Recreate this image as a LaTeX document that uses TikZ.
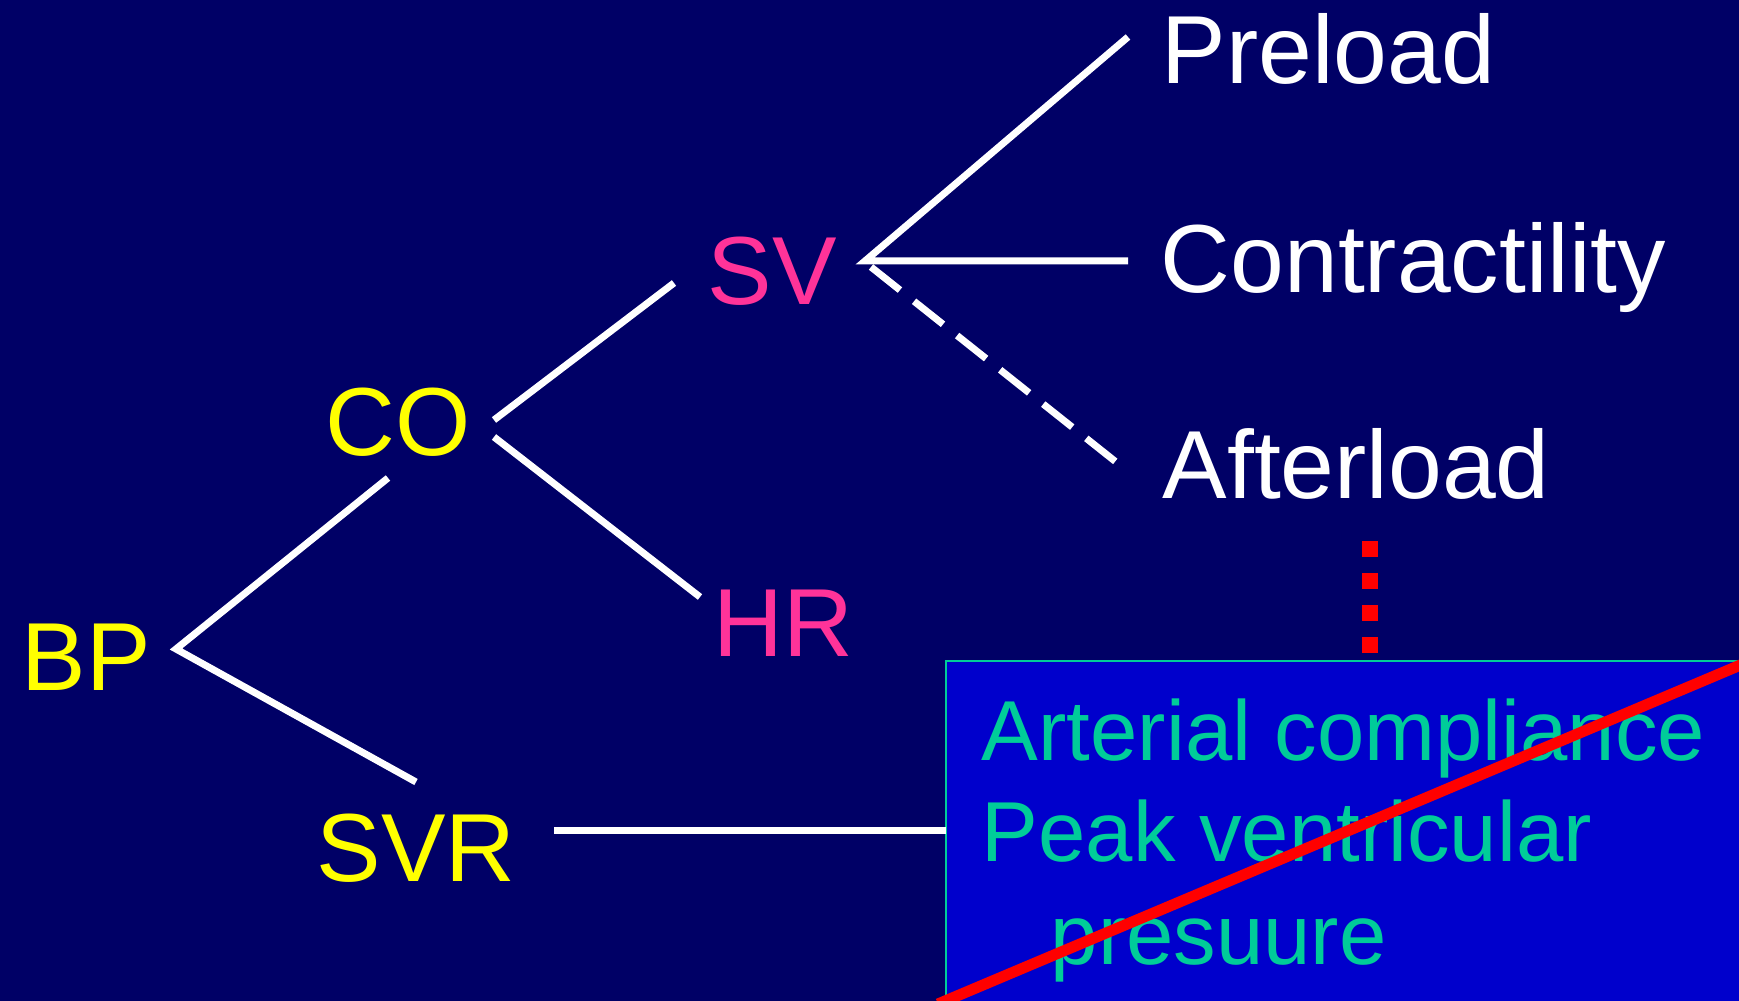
\documentclass[tikz,border=0pt]{standalone}
\usepackage{fontspec}
\setmainfont{Liberation Sans}
\definecolor{bg}{RGB}{0,0,102}
\definecolor{boxfill}{RGB}{0,0,204}
\definecolor{boxtext}{RGB}{0,204,153}
\definecolor{pinkc}{RGB}{255,51,153}
\definecolor{yel}{RGB}{255,255,0}
\begin{document}
\begin{tikzpicture}[x=0.01cm,y=-0.01cm,
  lbl/.style={inner sep=0pt, anchor=base west, font=\fontsize{27.5}{33}\selectfont},
  boxlbl/.style={inner sep=0pt, anchor=base west, text=boxtext, font=\fontsize{24.2}{29}\selectfont},
  link/.style={white, line width=0.07cm},
  dlink/.style={link, dash pattern=on 0.37cm off 0.18cm},
  reddots/.style={red, line width=0.16cm, dash pattern=on 0.16cm off 0.16cm},
  cross/.style={red, line width=0.11cm}]
\useasboundingbox (0,0) rectangle (1739,1001);
\fill[bg] (0,0) rectangle (1739,1001);
\begin{scope}
\clip (0,0) rectangle (1739,1001);
% box
\fill[boxfill] (946,661) rectangle (1760,1020);
\draw[boxtext, line width=0.02cm] (1760,661) -- (946,661) -- (946,1020);
\node[boxlbl] (art) at (981,761) {Arterial compliance};
\node[boxlbl] (peak) at (981,862) {Peak ventricular};
\node[boxlbl] (pres) at (1050,965) {presuure};
\coordinate (crossA) at (938,1004);
\coordinate (crossB) at (1750,661);
\draw[cross] (crossA) -- (crossB);
\end{scope}

% labels
\node[lbl, text=yel] (BP) at (21,691) {BP};
\node[lbl, text=yel] (CO) at (325,456) {CO};
\node[lbl, text=yel] (SVR) at (316,882) {SVR};
\node[lbl, text=pinkc] (SV) at (707,305) {SV};
\node[lbl, text=pinkc] (HR) at (713,657) {HR};
\node[lbl, text=white] (pre) at (1161,84) {Preload};
\node[lbl, text=white] (con) at (1160,293) {Contractility};
\node[lbl, text=white] (aft) at (1162,499) {Afterload};

% connector end points
\coordinate (bpv) at (176,649);
\coordinate (coin) at (388,478);
\coordinate (svrin) at (416,782);
\coordinate (coout1) at (494,420);
\coordinate (coout2) at (494,437);
\coordinate (svin) at (674,283);
\coordinate (hrin) at (700,597);
\coordinate (svv) at (865,261);
\coordinate (prein) at (1128,37);
\coordinate (conin) at (1128,261);
\coordinate (aftout) at (871,267);
\coordinate (aftin) at (1116,462);
\coordinate (svrout) at (554,831);
\coordinate (boxin) at (946,831);
\coordinate (aftbot) at (1370,541);
\coordinate (boxtop) at (1370,653);

\draw[link] (coin) -- (bpv) -- (svrin);
\draw[link] (coout1) -- (svin);
\draw[link] (coout2) -- (hrin);
\draw[link] (prein) -- (svv) -- (conin);
\draw[dlink] (aftout) -- (aftin);
\draw[link] (svrout) -- (boxin);
\draw[reddots] (aftbot) -- (boxtop);
\end{tikzpicture}
\end{document}
